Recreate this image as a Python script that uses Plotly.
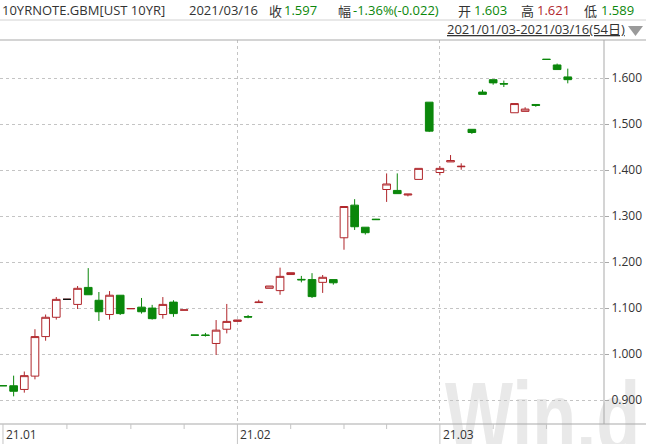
import base64
import plotly.graph_objects as go

# ---------------- data ----------------
dates = [
    "2021-01-03", "2021-01-04", "2021-01-05", "2021-01-06", "2021-01-07", "2021-01-08",
    "2021-01-10", "2021-01-11", "2021-01-12", "2021-01-13", "2021-01-14", "2021-01-15",
    "2021-01-18", "2021-01-19", "2021-01-20", "2021-01-21", "2021-01-22",
    "2021-01-25", "2021-01-26", "2021-01-27", "2021-01-28", "2021-01-29",
    "2021-02-01", "2021-02-02", "2021-02-03", "2021-02-04", "2021-02-05",
    "2021-02-08", "2021-02-09", "2021-02-10", "2021-02-11", "2021-02-12",
    "2021-02-16", "2021-02-17", "2021-02-18", "2021-02-19",
    "2021-02-22", "2021-02-23", "2021-02-24", "2021-02-25", "2021-02-26",
    "2021-03-01", "2021-03-02", "2021-03-03", "2021-03-04", "2021-03-05",
    "2021-03-08", "2021-03-09", "2021-03-10", "2021-03-11", "2021-03-12",
    "2021-03-14", "2021-03-15", "2021-03-16",
]
opens = [
    0.9312, 0.931, 0.923, 0.952, 1.038, 1.080,
    1.119, 1.108, 1.145, 1.117, 1.086, 1.128,
    1.0985, 1.102, 1.100, 1.086, 1.113,
    1.0955, 1.0415, 1.0415, 1.023, 1.054,
    1.071, 1.0815, 1.112, 1.143, 1.138,
    1.173, 1.1625, 1.162, 1.156, 1.162,
    1.253, 1.324, 1.276, 1.2935,
    1.358, 1.356, 1.346, 1.380, 1.548,
    1.395, 1.418, 1.4075, 1.489, 1.570,
    1.597, 1.5885, 1.525, 1.528, 1.543,
    1.6415, 1.629, 1.603,
]
highs = [
    0.9312, 0.953, 0.962, 1.054, 1.086, 1.124,
    1.119, 1.148, 1.187, 1.135, 1.137, 1.128,
    1.099, 1.122, 1.107, 1.124, 1.117,
    1.096, 1.0415, 1.046, 1.074, 1.109,
    1.074, 1.085, 1.118, 1.148, 1.188,
    1.177, 1.170, 1.176, 1.172, 1.162,
    1.321, 1.337, 1.276, 1.294,
    1.393, 1.393, 1.348, 1.404, 1.548,
    1.409, 1.433, 1.415, 1.489, 1.575,
    1.597, 1.595, 1.545, 1.537, 1.543,
    1.6415, 1.632, 1.621,
]
lows = [
    0.931, 0.908, 0.916, 0.945, 1.029, 1.075,
    1.119, 1.098, 1.129, 1.072, 1.075, 1.085,
    1.0985, 1.088, 1.075, 1.077, 1.081,
    1.0955, 1.041, 1.038, 0.998, 1.045,
    1.071, 1.078, 1.112, 1.143, 1.129,
    1.173, 1.156, 1.122, 1.133, 1.151,
    1.227, 1.270, 1.260, 1.292,
    1.331, 1.349, 1.343, 1.380, 1.483,
    1.389, 1.418, 1.401, 1.479, 1.565,
    1.586, 1.581, 1.525, 1.528, 1.538,
    1.641, 1.619, 1.589,
]
closes = [
    0.931, 0.919, 0.953, 1.038, 1.080, 1.119,
    1.119, 1.143, 1.129, 1.092, 1.128, 1.088,
    1.099, 1.092, 1.077, 1.108, 1.088,
    1.096, 1.041, 1.0405, 1.052, 1.071,
    1.074, 1.0805, 1.113, 1.148, 1.169,
    1.177, 1.1615, 1.125, 1.167, 1.155,
    1.321, 1.277, 1.264, 1.2925,
    1.370, 1.349, 1.348, 1.404, 1.485,
    1.404, 1.421, 1.4085, 1.482, 1.565,
    1.590, 1.5875, 1.545, 1.533, 1.541,
    1.641, 1.619, 1.597,
]
flat_black = ["2021-01-10"]
month_starts = ["2021-01-03", "2021-02-01", "2021-03-01"]
month_labels = ["21.01", "21.02", "21.03"]
week_starts = ["2021-01-10", "2021-01-18", "2021-01-25", "2021-02-08",
               "2021-02-16", "2021-02-22", "2021-03-08", "2021-03-14"]
y_ticks = [0.9, 1.0, 1.1, 1.2, 1.3, 1.4, 1.5, 1.6]

title_code = "10YRNOTE.GBM[UST 10YR]"
title_date = "2021/03/16"
header_items = [("收", "1.597", "g"), ("幅", "-1.36%(-0.022)", "g"),
                ("开", "1.603", "g"), ("高", "1.621", "r"), ("低", "1.589", "g")]
range_text = "2021/01/03-2021/03/16(54日)"
watermark = "Win.d"

# ---------------- style ----------------
W, H = 646, 444
ML, MR, MT, MB = 0, 42, 40, 20
PW, PH = W - ML - MR, H - MT - MB
RED = "#b0262b"
GREEN = "#0b870b"
TXT = "#333333"
FONT = "Open Sans, Noto Sans CJK SC, sans-serif"
CJK = "Noto Sans CJK SC, sans-serif"


def px(x):
    return (x - ML) / PW


def py(y):
    return (H - MB - y) / PH


fig = go.Figure()
fig.add_trace(go.Candlestick(
    x=dates, open=opens, high=highs, low=lows, close=closes,
    increasing=dict(line=dict(color=RED, width=1), fillcolor="white"),
    decreasing=dict(line=dict(color=GREEN, width=1), fillcolor=GREEN),
    whiskerwidth=0, hoverinfo="skip", showlegend=False,
))
bi = [dates.index(d) for d in flat_black]
fig.add_trace(go.Candlestick(
    x=[dates[i] for i in bi], open=[opens[i] for i in bi],
    high=[highs[i] for i in bi], low=[lows[i] for i in bi],
    close=[closes[i] for i in bi],
    increasing=dict(line=dict(color="#111111", width=1), fillcolor="#111111"),
    decreasing=dict(line=dict(color="#111111", width=1), fillcolor="#111111"),
    whiskerwidth=0, hoverinfo="skip", showlegend=False,
))

shapes = []
line_c = "#a9a9a9"
shapes.append(dict(type="line", xref="paper", yref="paper", x0=px(0), x1=px(W),
                   y0=py(20), y1=py(20), line=dict(color="#d2d2d2", width=1)))
shapes.append(dict(type="line", xref="paper", yref="paper", x0=px(0), x1=px(W),
                   y0=py(40), y1=py(40), line=dict(color=line_c, width=1)))
shapes.append(dict(type="line", xref="paper", yref="paper", x0=px(0), x1=px(W),
                   y0=0, y1=0, line=dict(color=line_c, width=1)))
shapes.append(dict(type="line", xref="paper", yref="paper", x0=1, x1=1,
                   y0=0, y1=1, line=dict(color=line_c, width=1)))
for d in month_starts:
    i = dates.index(d)
    shapes.append(dict(type="line", xref="x", yref="paper", x0=i, x1=i,
                       y0=0, y1=py(H), line=dict(color="#c4c4c4", width=1)))
for d in week_starts:
    i = dates.index(d)
    shapes.append(dict(type="line", xref="x", yref="paper", x0=i, x1=i,
                       y0=0, y1=py(H - MB + 5), line=dict(color="#c4c4c4", width=1)))
shapes.append(dict(type="path", xref="paper", yref="paper",
                   path=f"M {px(628)} {py(26)} L {px(643)} {py(26)} L {px(635.5)} {py(36)} Z",
                   fillcolor="#9a9a9a", line=dict(width=0)))

# watermark as a background image (below gridlines and labels)
wm_x0, wm_y0, wm_w, wm_h = 441, 364, 205, 80
sx = 0.72
svg = (f'<svg xmlns="http://www.w3.org/2000/svg" width="{wm_w}" height="{wm_h}" '
       f'viewBox="0 0 {wm_w} {wm_h}">'
       f'<text transform="scale({sx},1)" x="{4 / sx:.2f}" y="87.6" '
       f'font-family="Liberation Sans, Arial, sans-serif" font-weight="bold" '
       f'font-size="100" fill="#e9e9e9">{watermark}</text></svg>')
src = "data:image/svg+xml;base64," + base64.b64encode(svg.encode("utf-8")).decode("ascii")
images = [dict(source=src, xref="paper", yref="paper", x=px(wm_x0), y=py(wm_y0),
               sizex=px(wm_x0 + wm_w) - px(wm_x0), sizey=py(wm_y0) - py(wm_y0 + wm_h),
               xanchor="left", yanchor="top", sizing="stretch", layer="below")]

ann = []
ann.append(dict(text=title_code, xref="paper", yref="paper", x=px(0), y=py(10),
                xanchor="left", yanchor="middle", showarrow=False,
                font=dict(family=FONT, size=13, color=TXT)))
ann.append(dict(text=title_date, xref="paper", yref="paper", x=px(187), y=py(10),
                xanchor="left", yanchor="middle", showarrow=False,
                font=dict(family=FONT, size=13, color=TXT)))
label_x = [267, 336, 456, 519, 582]
value_x = [282, 351, 472, 535, 599]
for (lab, val, c), lx, vx in zip(header_items, label_x, value_x):
    ann.append(dict(text=lab, xref="paper", yref="paper", x=px(lx), y=py(10),
                    xanchor="left", yanchor="middle", showarrow=False,
                    font=dict(family=CJK, size=13, color=TXT)))
    ann.append(dict(text=val, xref="paper", yref="paper", x=px(vx), y=py(10),
                    xanchor="left", yanchor="middle", showarrow=False,
                    font=dict(family=FONT, size=13, color=(GREEN if c == "g" else RED))))
ann.append(dict(text="<u>" + range_text + "</u>", xref="paper", yref="paper",
                x=px(627), y=py(29), xanchor="right", yanchor="middle", showarrow=False,
                font=dict(family=FONT, size=13, color=TXT)))
for d, lab in zip(month_starts, month_labels):
    ann.append(dict(text=lab, xref="x", yref="paper", x=dates.index(d), y=py(434),
                    xanchor="left", yanchor="middle", xshift=1, showarrow=False,
                    font=dict(family=FONT, size=12, color=TXT)))

fig.update_layout(
    width=W, height=H, autosize=False,
    margin=dict(l=ML, r=MR, t=MT, b=MB, pad=0),
    paper_bgcolor="white", plot_bgcolor="rgba(0,0,0,0)",
    boxgap=0.28, boxgroupgap=0,
    showlegend=False, hovermode=False,
    shapes=shapes, annotations=ann, images=images,
    xaxis=dict(type="category", categoryorder="array", categoryarray=dates,
               range=[-0.28, 56.4], tickvals=month_starts[1:],
               showticklabels=False, ticks="", showgrid=True,
               gridcolor="#c4c4c4", griddash="dot", gridwidth=1,
               zeroline=False, showline=False, fixedrange=True,
               rangeslider=dict(visible=False)),
    yaxis=dict(side="right", range=[0.8478, 1.6833], tickvals=y_ticks,
               tickformat=".3f", ticks="outside", ticklen=4, tickcolor=line_c,
               showgrid=True, gridcolor="#c4c4c4", griddash="dot", gridwidth=1,
               zeroline=False, showline=False, fixedrange=True,
               tickfont=dict(family=FONT, size=12, color=TXT)),
)

fig.write_html("out.html", config={"displayModeBar": False},
               post_script="document.body.style.margin='0px';document.body.style.overflow='hidden';")
